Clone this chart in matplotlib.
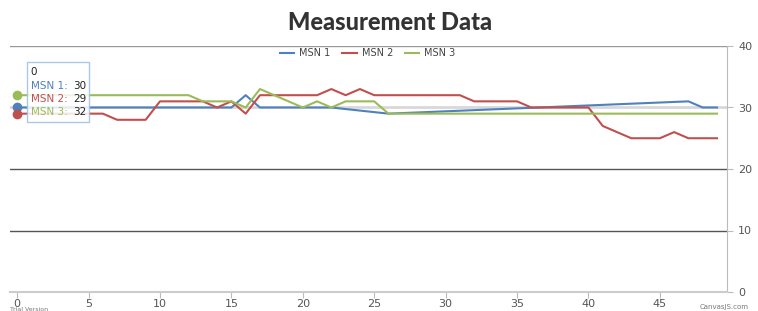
import matplotlib.pyplot as plt
import numpy as np

# values
msn1_x = [0, 1, 2, 3, 4, 5, 6, 7, 8, 9, 10, 11, 12, 13, 14, 15, 16, 17, 18, 19,
          20, 21, 22, 26, 47, 48, 49]
msn1_y = [30, 30, 30, 30, 30, 30, 30, 30, 30, 30, 30, 30, 30, 30, 30, 30, 32, 30, 30, 30,
          30, 30, 30, 29, 31, 30, 30]

msn2_x = [0, 1, 2, 3, 4, 5, 6, 7, 8, 9, 10, 11, 12, 13, 14, 15, 16, 17, 18, 19,
          20, 21, 22, 23, 24, 25, 26, 27, 28, 29, 30, 31, 32, 33, 34, 35, 36, 37, 38, 39,
          40, 41, 42, 43, 44, 45, 46, 47, 48, 49]
msn2_y = [29, 29, 29, 29, 29, 29, 29, 28, 28, 28, 31, 31, 31, 31, 30, 31, 29, 32, 32, 32,
          32, 32, 33, 32, 33, 32, 32, 32, 32, 32, 32, 32, 31, 31, 31, 31, 30, 30, 30, 30,
          30, 27, 26, 25, 25, 25, 26, 25, 25, 25]

msn3_x = [0, 1, 2, 3, 4, 5, 6, 7, 8, 9, 10, 11, 12, 13, 14, 15, 16, 17, 20, 21,
          22, 23, 24, 25, 26, 49]
msn3_y = [32, 32, 32, 32, 32, 32, 32, 32, 32, 32, 32, 32, 32, 31, 31, 31, 30, 33, 30, 31,
          30, 31, 31, 31, 29, 29]

series_names = ["MSN 1", "MSN 2", "MSN 3"]
colors = ["#4F81BC", "#C0504E", "#9BBB58"]
x_ticks = [0, 5, 10, 15, 20, 25, 30, 35, 40, 45]
y_ticks = [0, 10, 20, 30, 40]

fig = plt.figure(figsize=(7.58, 3.11), dpi=100)
ax = fig.add_axes([10 / 758, 1 - 292 / 311, 717 / 758, 246 / 311])

# horizontal grid, 30 line drawn lighter as in the reference
grid_style = {10: ("#555555", 1.0), 20: ("#555555", 1.0), 30: ("#d8d8d8", 2.0), 40: ("#999999", 1.0)}
for v, (c, w) in grid_style.items():
    ax.axhline(v, color=c, lw=w, zorder=1)

data = [(msn1_x, msn1_y), (msn2_x, msn2_y), (msn3_x, msn3_y)]
for (xs, ys), name, c in zip(data, series_names, colors):
    ax.plot(xs, ys, color=c, lw=1.5, label=name, zorder=3)
    ax.plot(xs[0], ys[0], "o", color=c, ms=6, zorder=4)

ax.set_xlim(-0.5, 49.7)
ax.set_ylim(0, 40)
ax.set_xticks(x_ticks)
ax.set_yticks(y_ticks)
ax.yaxis.tick_right()
ax.yaxis.set_label_position("right")
ax.tick_params(axis="both", labelsize=8, colors="#bbbbbb", labelcolor="#555555", length=4)
ax.tick_params(axis="x", pad=1)
ax.tick_params(axis="y", pad=4)
ax.set_ylabel("Value", rotation=-90, fontsize=11, color="#333333", labelpad=9, va="bottom")
for s in ["top", "left"]:
    ax.spines[s].set_visible(False)
ax.spines["right"].set_color("#bbbbbb")
ax.spines["bottom"].set_color("#cccccc")
ax.spines["bottom"].set_linewidth(1.5)

fig.text(0.514, 1 - 23 / 311, "Measurement Data", ha="center", va="center", fontsize=17,
         fontweight="black", family="Lato", color="#333333")

fig.legend(loc="center", bbox_to_anchor=(0.485, 1 - 53 / 311), ncol=3, frameon=False,
           fontsize=7, handlelength=1.5, columnspacing=1.2, handletextpad=0.5,
           labelcolor="#444444")

# tooltip box at x = 0
vals = [msn1_y[0], msn2_y[0], msn3_y[0]]
ax.add_patch(plt.Rectangle((0.7, 27.6), 4.35, 9.8, fc="white", ec="#9dbfe6", lw=1,
                           alpha=0.85, zorder=4))
ax.text(0.95, 35.8, "0", fontsize=7.5, color="#222222", va="center", zorder=5)
for yy, name, c, v in zip([33.5, 31.4, 29.3], series_names, colors, vals):
    ax.text(0.95, yy, name + ":", fontsize=7.5, color=c, va="center", zorder=5)
    ax.text(3.9, yy, str(v), fontsize=7.5, color="#222222", va="center", zorder=5)

fig.text(10 / 758, 1 - 309.5 / 311, "Trial Version", fontsize=4.5, color="#777777", va="center")
fig.text(700 / 758, 1 - 307 / 311, "CanvasJS.com", fontsize=5, color="#777777", va="center")

fig.savefig("out.png", dpi=100)
